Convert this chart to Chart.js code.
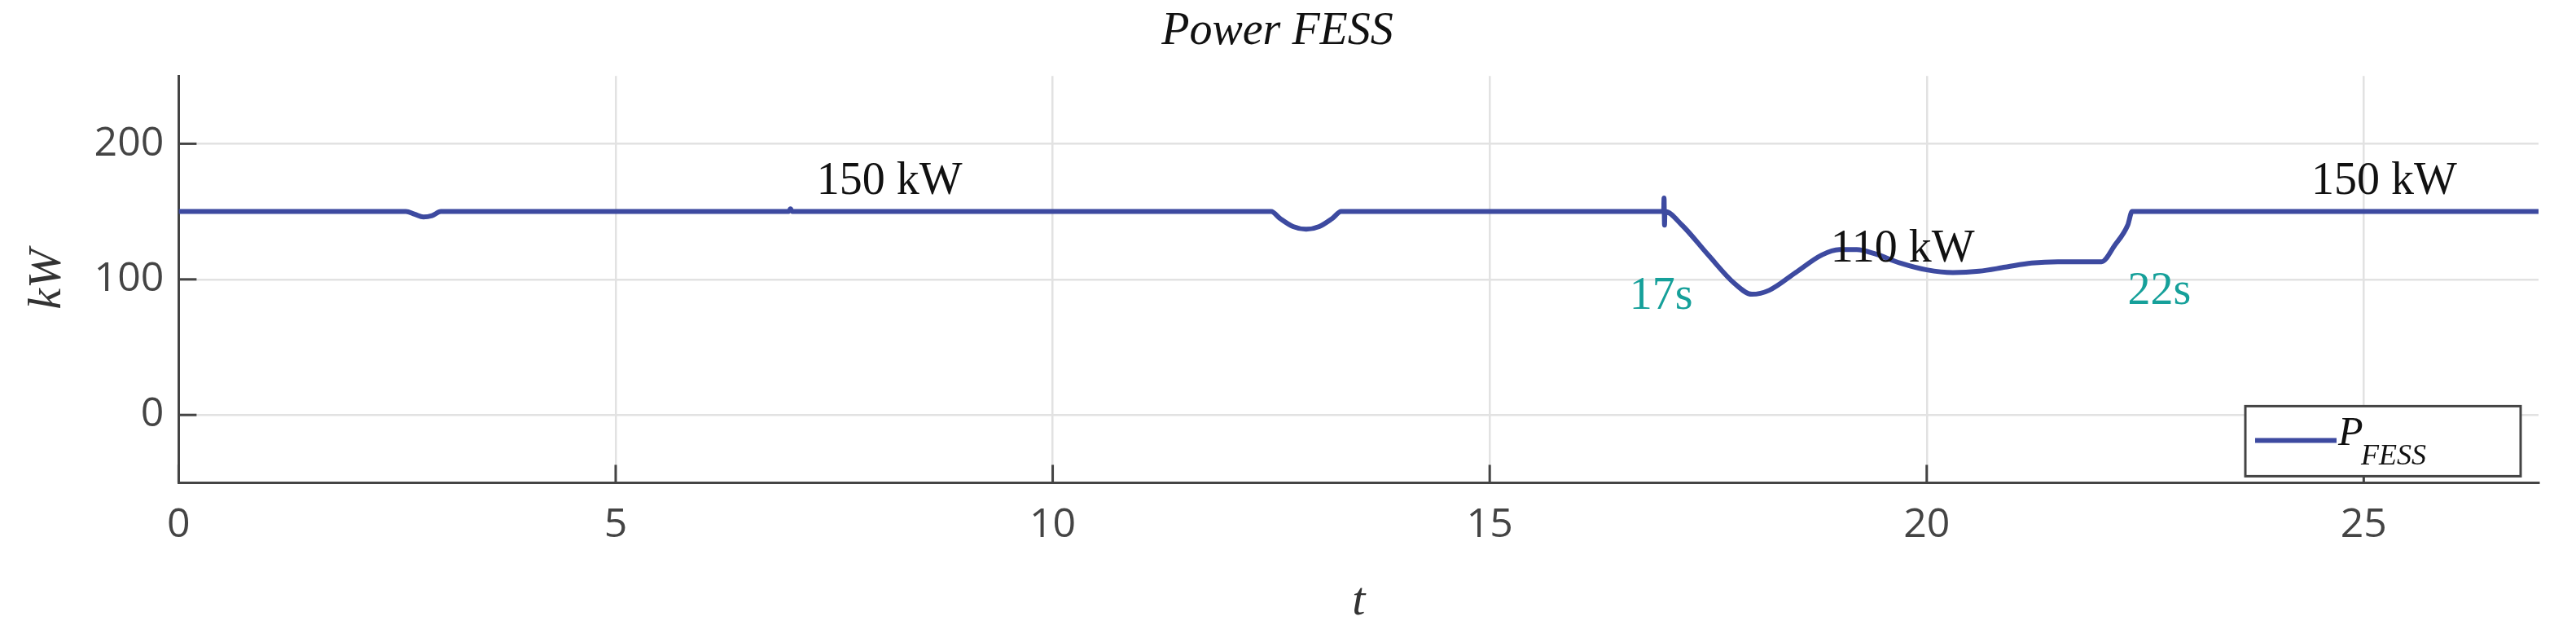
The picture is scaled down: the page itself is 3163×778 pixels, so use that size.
<!DOCTYPE html>
<html>
<head>
<script src="https://cdn.jsdelivr.net/npm/chart.js@4.4.0/dist/chart.umd.min.js"></script>
<style>
  html, body { margin: 0; padding: 0; background: #fff; }
  #wrap { width: 3163px; height: 778px; }
</style>
</head>
<body>
<div id="wrap"><canvas id="fessChart" width="3163" height="778"></canvas></div>
<script>
// time (s) and FESS power (kW)
var tValues = [0, 2.6, 2.7, 2.8, 2.9, 3.0, 3.05, 6.98, 7.0, 7.02, 12.5, 12.6, 12.75, 12.9, 13.05, 13.2, 13.3,
  16.99, 16.995, 17.0, 17.005, 17.2, 17.5, 17.8, 18.0, 18.2, 18.5, 18.8, 19.0, 19.2, 19.4, 19.7, 20.0, 20.3, 20.6, 20.9, 21.2, 21.5, 21.8, 22.0, 22.15, 22.3, 22.35, 27];
var pValues = [150, 150, 148, 146, 147, 150, 150, 150, 152, 150, 150, 145, 139, 137, 139, 145, 150,
  150, 160, 140, 150, 140, 118, 97, 89, 92, 105, 118, 122, 122, 119, 112, 107, 105, 106, 109, 112, 113, 113, 113, 125, 140, 150, 150];
var xTicks = [0, 5, 10, 15, 20, 25];
var yTicks = [0, 100, 200];
var notes = [
  { x: 7.3, y: 163, text: "150 kW", color: "#111" },
  { x: 24.4, y: 163, text: "150 kW", color: "#111" },
  { x: 18.9, y: 113, text: "110 kW", color: "#111" },
  { x: 16.6, y: 78, text: "17s", color: "#16a09a" },
  { x: 22.3, y: 82, text: "22s", color: "#16a09a" }
];

var points = tValues.map(function (t, i) { return { x: t, y: pValues[i] }; });

var extras = {
  id: 'extras',
  afterDatasetsDraw: function (chart) {
    var ctx = chart.ctx, xs = chart.scales.x, ys = chart.scales.y, a = chart.chartArea;
    ctx.save();
    ctx.font = '56px "Liberation Serif"';
    ctx.textBaseline = 'alphabetic';
    notes.forEach(function (n) {
      ctx.fillStyle = n.color;
      ctx.fillText(n.text, xs.getPixelForValue(n.x), ys.getPixelForValue(n.y));
    });
    // axis ticks inside the box
    ctx.strokeStyle = '#444';
    ctx.lineWidth = 3;
    xTicks.forEach(function (t) {
      var px = xs.getPixelForValue(t);
      ctx.beginPath(); ctx.moveTo(px, a.bottom); ctx.lineTo(px, a.bottom - 22); ctx.stroke();
    });
    yTicks.forEach(function (v) {
      var py = ys.getPixelForValue(v);
      ctx.beginPath(); ctx.moveTo(a.left, py); ctx.lineTo(a.left + 22, py); ctx.stroke();
    });
    // legend box
    var bx = a.right - 360, by = a.bottom - 94, bw = 338, bh = 86;
    ctx.fillStyle = '#fff';
    ctx.fillRect(bx, by, bw, bh);
    ctx.strokeStyle = '#444'; ctx.lineWidth = 3;
    ctx.strokeRect(bx, by, bw, bh);
    ctx.strokeStyle = '#3d4aa0'; ctx.lineWidth = 6;
    ctx.beginPath(); ctx.moveTo(bx + 12, by + 42); ctx.lineTo(bx + 112, by + 42); ctx.stroke();
    ctx.fillStyle = '#111';
    ctx.font = 'italic 50px "Liberation Serif"';
    ctx.fillText('P', bx + 114, by + 48);
    ctx.font = 'italic 36px "Liberation Serif"';
    ctx.fillText('FESS', bx + 142, by + 72);
    ctx.restore();
  }
};

new Chart(document.getElementById('fessChart').getContext('2d'), {
  type: 'line',
  data: {
    datasets: [{
      label: 'P_FESS',
      data: points,
      borderColor: '#3d4aa0',
      borderWidth: 6,
      pointRadius: 0,
      cubicInterpolationMode: 'monotone',
      fill: false
    }]
  },
  options: {
    responsive: false,
    animation: false,
    devicePixelRatio: 1,
    layout: { padding: { top: 0, right: 46, left: 20, bottom: 0 } },
    plugins: {
      legend: { display: false },
      tooltip: { enabled: false },
      title: {
        display: true,
        text: 'Power FESS',
        color: '#111',
        font: { family: '"Liberation Serif"', style: 'italic', size: 56, weight: 'normal' },
        padding: { top: 6, bottom: 20 }
      }
    },
    scales: {
      x: {
        type: 'linear', min: 0, max: 27,
        afterBuildTicks: function (s) { s.ticks = xTicks.map(function (v) { return { value: v }; }); },
        grid: { color: '#e2e2e2', lineWidth: 2.5, drawTicks: false },
        border: { color: '#444', width: 3 },
        ticks: { color: '#444', font: { family: '"Open Sans"', size: 50 }, padding: 22 },
        title: { display: true, text: 't', color: '#333', font: { family: '"Liberation Serif"', style: 'italic', size: 58 }, padding: { top: 8 } }
      },
      y: {
        min: -50, max: 250,
        afterBuildTicks: function (s) { s.ticks = yTicks.map(function (v) { return { value: v }; }); },
        grid: { color: '#e2e2e2', lineWidth: 2.5, drawTicks: false },
        border: { color: '#444', width: 3 },
        ticks: { color: '#444', font: { family: '"Open Sans"', size: 50 }, padding: 18 },
        title: { display: true, text: 'kW', color: '#333', font: { family: '"Liberation Serif"', style: 'italic', size: 58 }, padding: { bottom: 4 } }
      }
    }
  },
  plugins: [extras]
});
</script>
</body>
</html>
